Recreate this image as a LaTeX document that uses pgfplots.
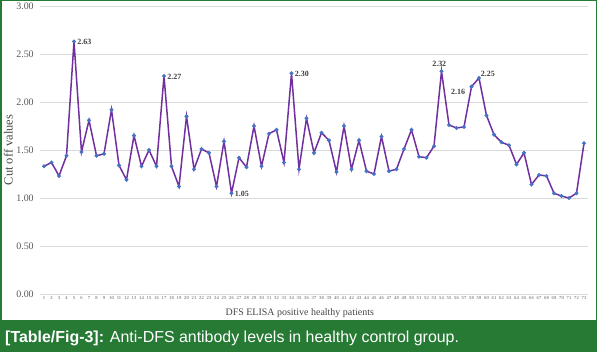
\documentclass[border=0pt]{standalone}
\usepackage{pgfplots}
\pgfplotsset{compat=1.18}
\usepackage{fontspec}
\setmainfont{Liberation Serif}
\newfontfamily\capfont{Liberation Sans}
\definecolor{framegreen}{RGB}{38,122,52}
\definecolor{linepurple}{RGB}{112,48,160}
\definecolor{markblue}{RGB}{68,114,196}
\definecolor{gridgray}{RGB}{217,217,217}
\definecolor{ticktext}{RGB}{89,89,89}
\pgfplotstableread{
x y
1 1.33
2 1.37
3 1.23
4 1.44
5 2.63
6 1.48
7 1.81
8 1.44
9 1.46
10 1.92
11 1.34
12 1.19
13 1.65
14 1.33
15 1.50
16 1.33
17 2.27
18 1.33
19 1.12
20 1.85
21 1.30
22 1.51
23 1.47
24 1.12
25 1.59
26 1.05
27 1.42
28 1.32
29 1.75
30 1.33
31 1.67
32 1.71
33 1.37
34 2.30
35 1.30
36 1.83
37 1.47
38 1.68
39 1.60
40 1.27
41 1.75
42 1.30
43 1.60
44 1.28
45 1.25
46 1.64
47 1.28
48 1.30
49 1.51
50 1.71
51 1.43
52 1.42
53 1.54
54 2.32
55 1.76
56 1.73
57 1.74
58 2.16
59 2.25
60 1.86
61 1.66
62 1.58
63 1.55
64 1.35
65 1.47
66 1.14
67 1.24
68 1.23
69 1.05
70 1.02
71 1.00
72 1.05
73 1.57
}\datatable
\begin{document}
\begin{tikzpicture}
\path[use as bounding box] (0,0) rectangle (597bp,352bp);
\fill[white] (0,0) rectangle (597bp,352bp);
\fill[framegreen] (0,0) rectangle (597bp,32bp);
\draw[framegreen, line width=1.5bp] (0.75bp,0.75bp) rectangle (596.25bp,351.25bp);
\node[anchor=west, text=white, inner sep=0pt] at (5bp,13.5bp)
  {\capfont\fontsize{16}{18}\selectfont\textbf{[Table/Fig-3]:} Anti-DFS antibody levels in healthy control group.};
\begin{axis}[
  at={(40.25bp,58bp)}, anchor=south west,
  scale only axis, width=547.5bp, height=288bp,
  xmin=0.5, xmax=73.5, ymin=0, ymax=3,
  xtick={1,...,73},
  ytick={0,0.5,...,3},
  /pgf/number format/assume math mode=true,
  yticklabel style={/pgf/number format/fixed, /pgf/number format/fixed zerofill, /pgf/number format/precision=2},
  yticklabel style={font=\fontsize{10}{12}\selectfont, text=ticktext, xshift=-3bp},
  xticklabel style={font=\fontsize{4.6}{5}\selectfont, text=ticktext, yshift=1bp},
  major tick length=0pt,
  axis line style={draw=none},
  ymajorgrids, grid style={gridgray, line width=0.6bp},
  xlabel={DFS ELISA positive healthy patients},
  ylabel={Cut off values},
  xlabel style={font=\fontsize{10}{12}\selectfont, text=ticktext!80!black, at={(axis description cs:0.474,0)}, anchor=north, yshift=-11bp},
  ylabel style={font=\fontsize{12.5}{14}\selectfont, text=ticktext!80!black, at={(axis description cs:0,0.5)}, anchor=south, yshift=24bp},
  clip=false,
]
\addplot[linepurple, line width=1.5bp, mark=*, mark size=1.1bp,
  mark options={fill=markblue, draw=markblue}] table[x=x,y=y] {\datatable};
\begin{scope}[every node/.style={font=\fontsize{8}{9}\selectfont\bfseries, text=black!75, inner sep=1bp}]
\node[anchor=west] at (axis cs:5.3,2.63) {2.63};
\node[anchor=west] at (axis cs:17.3,2.26) {2.27};
\node[anchor=west] at (axis cs:26.3,1.04) {1.05};
\node[anchor=west] at (axis cs:34.3,2.29) {2.30};
\node[anchor=south] at (axis cs:53.7,2.36) {2.32};
\node[anchor=east] at (axis cs:57.3,2.11) {2.16};
\node[anchor=south west] at (axis cs:59.1,2.25) {2.25};
\end{scope}
\end{axis}
\end{tikzpicture}
\end{document}
